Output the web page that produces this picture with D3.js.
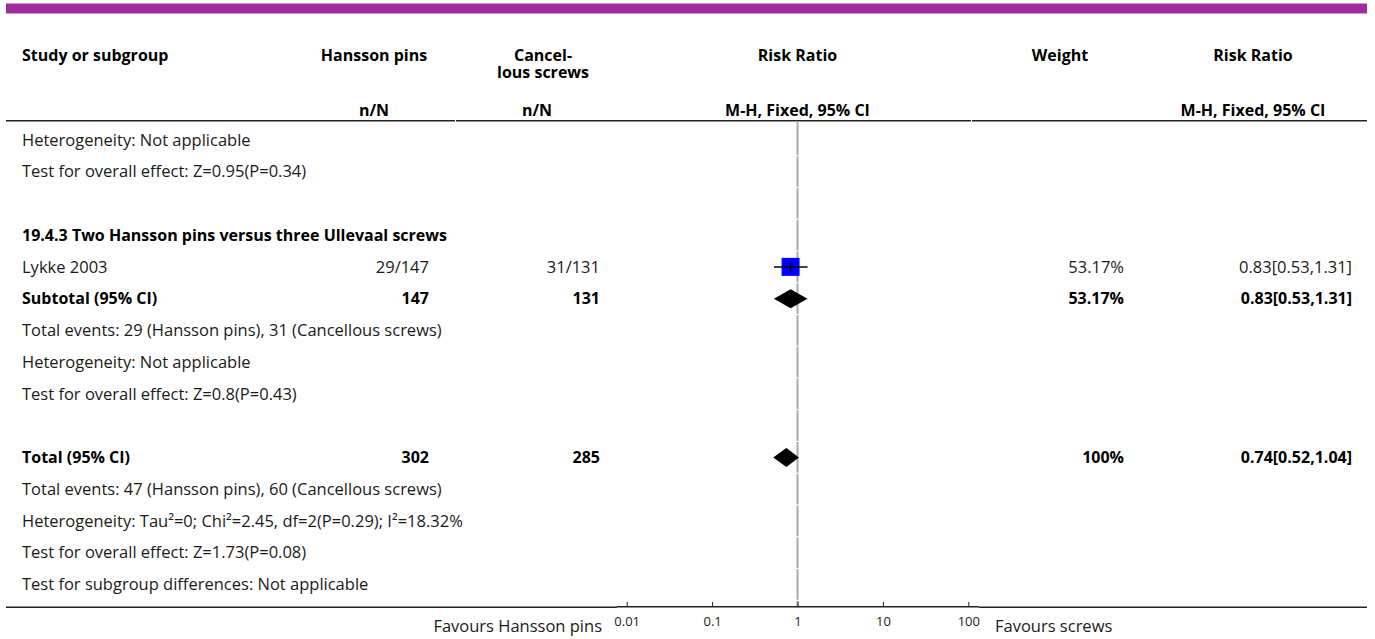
<!DOCTYPE html>
<html>
<head>
<meta charset="utf-8">
<script src="https://cdn.jsdelivr.net/npm/d3@7/dist/d3.min.js"></script>
<style>
  html, body { margin: 0; padding: 0; background: #fff; }
  svg { display: block; }
  text { font-family: "Open Sans", "Noto Sans", sans-serif; fill: #1a1a1a; }
  .b { font-weight: 700; fill: #000; }
</style>
</head>
<body>
<svg id="chart" width="1375" height="639"></svg>
<script>
// Column headings
const headTop = ["Study or subgroup", "Hansson pins", ["Cancel-", "lous screws"], "Risk Ratio", "Weight", "Risk Ratio"];
const headSub = ["", "n/N", "n/N", "M-H, Fixed, 95% CI", "", "M-H, Fixed, 95% CI"];

// Subgroup 19.4.3
const subgroupTitle = "19.4.3 Two Hansson pins versus three Ullevaal screws";
const studyNames = ["Lykke 2003"];
const pinsEvents = ["29/147"];
const screwEvents = ["31/131"];
const studyRR = [0.83];
const studyLow = [0.53];
const studyHigh = [1.31];
const studyWeight = [53.17];

const subtotalN = [147, 131];
const subtotalRR = [0.83, 0.53, 1.31];
const subtotalWeight = 53.17;

// Overall pooled result
const totalN = [302, 285];
const totalRR = [0.74, 0.52, 1.04];
const totalWeight = 100;

const axisTicks = [0.01, 0.1, 1, 10, 100];
const favourLabels = ["Favours Hansson pins", "Favours screws"];

const fmt2 = d3.format(".2f");
const ciText = (m, l, h) => `${fmt2(m)}[${fmt2(l)},${fmt2(h)}]`;

// Row list, one entry per table line
const rows = [
  { kind: "note", text: "Heterogeneity: Not applicable" },
  { kind: "note", text: "Test for overall effect: Z=0.95(P=0.34)" },
  { kind: "blank" },
  { kind: "title", text: subgroupTitle },
  ...studyNames.map((s, i) => ({ kind: "study", text: s, n1: pinsEvents[i], n2: screwEvents[i],
      rr: studyRR[i], lo: studyLow[i], hi: studyHigh[i], w: studyWeight[i] })),
  { kind: "pooled", text: "Subtotal (95% CI)", n1: subtotalN[0], n2: subtotalN[1],
      rr: subtotalRR[0], lo: subtotalRR[1], hi: subtotalRR[2], w: subtotalWeight, wText: "53.17%" },
  { kind: "note", text: "Total events: 29 (Hansson pins), 31 (Cancellous screws)" },
  { kind: "note", text: "Heterogeneity: Not applicable" },
  { kind: "note", text: "Test for overall effect: Z=0.8(P=0.43)" },
  { kind: "blank" },
  { kind: "pooled", text: "Total (95% CI)", n1: totalN[0], n2: totalN[1],
      rr: totalRR[0], lo: totalRR[1], hi: totalRR[2], w: totalWeight, wText: "100%" },
  { kind: "note", text: "Total events: 47 (Hansson pins), 60 (Cancellous screws)" },
  { kind: "note", text: "Heterogeneity: Tau²=0; Chi²=2.45, df=2(P=0.29); I²=18.32%" },
  { kind: "note", text: "Test for overall effect: Z=1.73(P=0.08)" },
  { kind: "note", text: "Test for subgroup differences: Not applicable" }
];

const svg = d3.select("#chart");
const left = 6, right = 1367;
const fsR = 16.5, fsB = 16;

// Top accent bar
svg.append("rect").attr("x", left).attr("y", 3.5).attr("width", right - left).attr("height", 10)
  .attr("fill", "#a12a9c");

// Column anchors
const col = { study: 22, n1: 429, n2: 600, plotL: 617, plotR: 979, weight: 1124, rr: 1352 };

// Log scale for the risk ratio axis
const x = d3.scaleLog().domain([0.01, 100]).range([626.7, 968.3]);

// Row positions
const rowTop = 124, rowH = 31.75;
const y = d3.scaleLinear().domain([0, 1]).range([rowTop + rowH / 2, rowTop + rowH * 1.5]);
const bottomY = 607.3;

const txt = (g, xx, yy, s, anchor, bold) =>
  g.append("text").attr("class", bold ? "b" : null).attr("x", xx).attr("y", yy).attr("dy", "0.35em")
    .attr("text-anchor", anchor || "start").attr("font-size", bold ? fsB : fsR).text(s);

// Header
const h1 = 55.5, h2 = 110;
const head = svg.append("g");
txt(head, col.study, h1, headTop[0], "start", true);
txt(head, 374, h1, headTop[1], "middle", true);
const two = txt(head, 543, h1, null, "middle", true);
headTop[2].forEach((s, k) => two.append("tspan").attr("x", 543).attr("dy", k ? 17 : "0.35em").text(s));
txt(head, x(1), h1, headTop[3], "middle", true);
txt(head, 1060, h1, headTop[4], "middle", true);
txt(head, 1253, h1, headTop[5], "middle", true);
txt(head, 374, h2, headSub[1], "middle", true);
txt(head, 537, h2, headSub[2], "middle", true);
txt(head, x(1), h2, headSub[3], "middle", true);
txt(head, 1253, h2, headSub[5], "middle", true);

// Horizontal rules, broken at the column edges
const rule = (y0, segs) => segs.forEach(([a, b]) =>
  svg.append("line").attr("x1", a).attr("x2", b).attr("y1", y0).attr("y2", y0)
    .attr("stroke", "#222").attr("stroke-width", 1.5));
rule(120.7, [[left, 455], [456, 617], [617, 971], [972, right]]);

// Reference line at RR = 1, one segment per row
const vline = (y1, y2) => svg.append("line").attr("x1", x(1)).attr("x2", x(1))
  .attr("y1", y1).attr("y2", y2).attr("stroke", "#a8a8a8").attr("stroke-width", 2);
rows.forEach((r, i) => vline(y(i) - rowH / 2 + 0.5, y(i) + rowH / 2 - 0.5));
vline(121.5, rowTop + 0.5);
vline(y(rows.length - 1) + rowH / 2 + 0.5, bottomY);

const boxSize = d3.scaleSqrt().domain([0, 100]).range([0, 24.7]);

rows.forEach((r, i) => {
  const yc = y(i);
  if (r.kind === "blank") return;
  const bold = r.kind === "title" || r.kind === "pooled";
  txt(svg, col.study, yc, r.text, "start", bold);
  if (r.kind === "study" || r.kind === "pooled") {
    txt(svg, col.n1, yc, r.n1, "end", bold);
    txt(svg, col.n2, yc, r.n2, "end", bold);
    txt(svg, col.weight, yc, r.wText || `${fmt2(r.w)}%`, "end", bold);
    txt(svg, col.rr, yc, ciText(r.rr, r.lo, r.hi), "end", bold);
  }
  if (r.kind === "study") {
    const s = boxSize(r.w);
    svg.append("rect").attr("x", x(r.rr) - s / 2).attr("y", yc - s / 2)
      .attr("width", s).attr("height", s).attr("fill", "#0000ff");
    svg.append("line").attr("x1", x(r.lo)).attr("x2", x(r.hi)).attr("y1", yc).attr("y2", yc)
      .attr("stroke", "#000").attr("stroke-width", 1.5);
    svg.append("line").attr("x1", x(r.rr)).attr("x2", x(r.rr)).attr("y1", yc - 4.5).attr("y2", yc + 4.5)
      .attr("stroke", "#000").attr("stroke-width", 1.5);
  }
  if (r.kind === "pooled") {
    const hh = 9.5;
    const pts = [[x(r.lo), yc], [x(r.rr), yc - hh], [x(r.hi), yc], [x(r.rr), yc + hh]];
    svg.append("path").attr("d", d3.line()(pts) + "Z").attr("fill", "#000");
  }
});

// Bottom rule and axis
rule(bottomY, [[left, 617], [979, right]]);
const axisG = svg.append("g").attr("transform", `translate(0,${bottomY})`);
axisG.append("line").attr("x1", 617).attr("x2", 979).attr("y1", -0.5).attr("y2", -0.5)
  .attr("stroke", "#222").attr("stroke-width", 1.5);
const axis = d3.axisTop(x).tickValues(axisTicks).tickSize(5).tickFormat(d => String(d));
const ag = axisG.append("g").attr("transform", "translate(0,-0.5)").call(axis);
ag.select(".domain").remove();
ag.selectAll(".tick line").attr("stroke", "#222").attr("stroke-width", 1);
ag.selectAll(".tick text").attr("y", 14.5).attr("dy", "0.35em")
  .attr("font-family", "'Open Sans', sans-serif").attr("font-size", 13).attr("fill", "#1a1a1a");

txt(svg, 602, 626, favourLabels[0], "end", false);
txt(svg, 995, 626, favourLabels[1], "start", false);
</script>
</body>
</html>
